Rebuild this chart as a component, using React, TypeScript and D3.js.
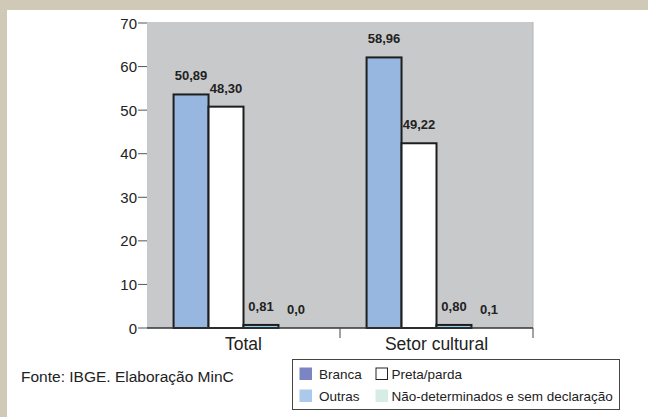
import { useEffect, useRef } from 'react';
import * as d3 from 'd3';

// ---- Data -------------------------------------------------------------
const CATEGORIES = ['Total', 'Setor cultural'];
const SERIES = ['Branca', 'Preta/parda', 'Outras', 'Não-determinados e sem declaração'];

// bar heights as drawn in the picture
const BRANCA = [53.6, 62.1];
const PRETA_PARDA = [50.8, 42.4];
const OUTRAS = [0.7, 0.7];
const NAO_DETERMINADOS = [0, 0];

// printed value labels
const BRANCA_LABELS = ['50,89', '58,96'];
const PRETA_PARDA_LABELS = ['48,30', '49,22'];
const OUTRAS_LABELS = ['0,81', '0,80'];
const NAO_DETERMINADOS_LABELS = ['0,0', '0,1'];

const Y_TICKS = [0, 10, 20, 30, 40, 50, 60, 70];
const SOURCE_NOTE = 'Fonte: IBGE. Elaboração MinC';

const WIDTH = 648;
const HEIGHT = 417;
const PLOT = { left: 147, right: 533, top: 23, bottom: 328 } as const;
const FONT = 'Liberation Sans, Arial, Helvetica, sans-serif';

const BAR_FILL = ['#97b7e0', '#ffffff', '#8fd3f4', '#d6ede4'];
const LEGEND_FILL = ['#7b85c3', '#ffffff', '#abc9ea', '#d6ede4'];

export default function App() {
  const svgRef = useRef<SVGSVGElement | null>(null);

  useEffect(() => {
    const svgEl = svgRef.current;
    if (!svgEl) return;
    const svg = d3.select(svgEl);
    svg.selectAll('*').remove();

    // ---- Frame -----------------------------------------------------------
    svg.append('rect').attr('width', WIDTH).attr('height', HEIGHT).attr('fill', '#ffffff');
    svg.append('rect').attr('width', WIDTH).attr('height', 10).attr('fill', '#d0c9b8');
    svg.append('rect').attr('y', 10).attr('width', 7).attr('height', HEIGHT - 10).attr('fill', '#d0c9b8');

    const xScale = d3
      .scaleBand<string>()
      .domain(CATEGORIES)
      .range([PLOT.left, PLOT.right])
      .paddingInner(0)
      .paddingOuter(0);
    const seriesScale = d3
      .scaleBand<string>()
      .domain(SERIES)
      .range([0, xScale.bandwidth()])
      .paddingInner(0)
      .paddingOuter(0.76);
    const yScale = d3.scaleLinear().domain([0, 70]).range([PLOT.bottom, PLOT.top]);

    // ---- Plot background -------------------------------------------------
    svg
      .append('rect')
      .attr('x', PLOT.left)
      .attr('y', PLOT.top - 1)
      .attr('width', PLOT.right - PLOT.left)
      .attr('height', PLOT.bottom - PLOT.top + 1)
      .attr('fill', '#c8c9cb');
    svg
      .append('line')
      .attr('x1', PLOT.right)
      .attr('x2', PLOT.right)
      .attr('y1', PLOT.top - 1)
      .attr('y2', PLOT.bottom)
      .attr('stroke', '#b4b5b7')
      .attr('stroke-width', 1);

    // ---- Y axis ----------------------------------------------------------
    const yAxis = svg.append('g');
    yAxis
      .selectAll('g.tick')
      .data(Y_TICKS)
      .join('g')
      .attr('class', 'tick')
      .attr('transform', (d) => `translate(0, ${yScale(d)})`)
      .each(function (d) {
        const tick = d3.select(this);
        tick
          .append('line')
          .attr('x1', PLOT.left - 9)
          .attr('x2', PLOT.left)
          .attr('stroke', '#555555')
          .attr('stroke-width', 1);
        tick
          .append('text')
          .attr('x', PLOT.left - 10)
          .attr('y', 5.5)
          .attr('text-anchor', 'end')
          .attr('font-family', FONT)
          .attr('font-size', 15)
          .attr('fill', '#222222')
          .text(d);
      });

    // ---- Bars ------------------------------------------------------------
    const values = [BRANCA, PRETA_PARDA, OUTRAS, NAO_DETERMINADOS];
    const labels = [BRANCA_LABELS, PRETA_PARDA_LABELS, OUTRAS_LABELS, NAO_DETERMINADOS_LABELS];
    const rows = CATEGORIES.flatMap((cat, ci) =>
      SERIES.map((s, si) => ({
        cat,
        series: s,
        si,
        value: values[si][ci],
        label: labels[si][ci],
      }))
    );

    const barX = (d: { cat: string; series: string }) =>
      (xScale(d.cat) ?? 0) + (seriesScale(d.series) ?? 0);

    svg
      .append('g')
      .selectAll('rect')
      .data(rows.filter((d) => d.value > 0))
      .join('rect')
      .attr('x', barX)
      .attr('y', (d) => yScale(d.value))
      .attr('width', seriesScale.bandwidth())
      .attr('height', (d) => yScale(0) - yScale(d.value))
      .attr('fill', (d) => BAR_FILL[d.si])
      .attr('stroke', '#1e1e1e')
      .attr('stroke-width', 2);

    svg
      .append('g')
      .selectAll('text')
      .data(rows)
      .join('text')
      .attr('x', (d) => barX(d) + seriesScale.bandwidth() / 2)
      .attr('y', (d) => yScale(d.value) - 14)
      .attr('text-anchor', 'middle')
      .attr('font-family', FONT)
      .attr('font-size', 13)
      .attr('font-weight', 'bold')
      .attr('fill', '#222222')
      .text((d) => d.label);

    // ---- X axis ----------------------------------------------------------
    const xAxis = svg.append('g');
    xAxis
      .append('line')
      .attr('x1', PLOT.left)
      .attr('x2', PLOT.right)
      .attr('y1', PLOT.bottom)
      .attr('y2', PLOT.bottom)
      .attr('stroke', '#333333')
      .attr('stroke-width', 1.5);
    xAxis
      .selectAll('line.tick')
      .data(CATEGORIES)
      .join('line')
      .attr('class', 'tick')
      .attr('x1', (d) => (xScale(d) ?? 0) + xScale.bandwidth())
      .attr('x2', (d) => (xScale(d) ?? 0) + xScale.bandwidth())
      .attr('y1', PLOT.bottom)
      .attr('y2', PLOT.bottom + 10)
      .attr('stroke', '#444444')
      .attr('stroke-width', 1);
    xAxis
      .selectAll('text')
      .data(CATEGORIES)
      .join('text')
      .attr('x', (d) => (xScale(d) ?? 0) + xScale.bandwidth() / 2)
      .attr('y', 350)
      .attr('text-anchor', 'middle')
      .attr('font-family', FONT)
      .attr('font-size', 17.5)
      .attr('fill', '#222222')
      .text((d) => d);

    // ---- Source note -----------------------------------------------------
    svg
      .append('text')
      .attr('x', 21)
      .attr('y', 381.5)
      .attr('font-family', FONT)
      .attr('font-size', 15.5)
      .attr('fill', '#222222')
      .text(SOURCE_NOTE);

    // ---- Legend ----------------------------------------------------------
    const legend = svg.append('g').attr('transform', 'translate(292.5, 359.5)');
    legend
      .append('rect')
      .attr('width', 327)
      .attr('height', 50)
      .attr('fill', '#ffffff')
      .attr('stroke', '#444444')
      .attr('stroke-width', 1);
    const legendPos = [
      { x: 7, y: 8 },
      { x: 83, y: 8 },
      { x: 7, y: 30 },
      { x: 83, y: 30 },
    ];
    legend
      .selectAll('g.item')
      .data(SERIES)
      .join('g')
      .attr('class', 'item')
      .attr('transform', (_, i) => `translate(${legendPos[i].x}, ${legendPos[i].y})`)
      .each(function (d, i) {
        const item = d3.select(this);
        item
          .append('rect')
          .attr('x', i === 1 ? 0.5 : 0)
          .attr('y', i === 1 ? 0.5 : 0)
          .attr('width', i === 1 ? 11.5 : 12.5)
          .attr('height', i === 1 ? 11.5 : 12.5)
          .attr('fill', LEGEND_FILL[i])
          .attr('stroke', i === 1 ? '#222222' : 'none')
          .attr('stroke-width', 1);
        item
          .append('text')
          .attr('x', i % 2 === 0 ? 19.5 : 16)
          .attr('y', 11)
          .attr('font-family', FONT)
          .attr('font-size', 13.5)
          .attr('fill', '#222222')
          .text(d);
      });
  }, []);

  return (
    <svg
      ref={svgRef}
      width={WIDTH}
      height={HEIGHT}
      viewBox={`0 0 ${WIDTH} ${HEIGHT}`}
      style={{ position: 'absolute', left: 0, top: 0, display: 'block' }}
    />
  );
}
